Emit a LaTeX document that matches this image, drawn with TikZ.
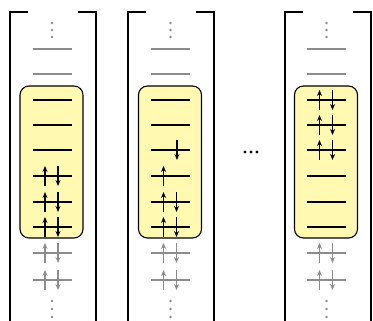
\documentclass[tikz,border=0pt]{standalone}
\usetikzlibrary{arrows.meta}
\definecolor{boxfill}{RGB}{255,249,178}
\definecolor{lvlgray}{RGB}{140,140,140}
\begin{document}
\begin{tikzpicture}[x=1pt,y=-1pt,
  lvl/.style={line width=1.2pt},
  grayed/.style={draw=lvlgray},
  spin/.style={line width=1.1pt,-{Stealth[length=6pt,width=5pt]}},
  bracketline/.style={line width=2pt},
  window/.style={draw=black,line width=1.1pt,fill=boxfill,rounded corners=9pt},
  vdot/.style={fill=lvlgray,draw=none},
  hdot/.style={fill=black,draw=none}]
\useasboundingbox (0,0) rectangle (373,321);
% brackets
\foreach \lx/\rx in {10/96,128/214,285/371}{
  \draw[bracketline] (\lx+18,12) -- (\lx,12) -- (\lx,321);
  \draw[bracketline] (\rx-18,12) -- (\rx,12) -- (\rx,321);
}
% columns: center x
\foreach \cx/\col in {52/1,170.5/2,326.5/3}{
  % top dots
  \foreach \yy in {23,30,37} \fill[vdot] (\cx,\yy) circle (1.3pt);
  % bottom dots
  \foreach \yy in {301,309,317} \fill[vdot] (\cx,\yy) circle (1.3pt);
  % top gray levels
  \foreach \yy in {49,74} \draw[lvl,grayed] (\cx-19.5,\yy) -- (\cx+19.5,\yy);
  % bottom gray levels with pairs
  \foreach \yy in {253,280}{
    \draw[lvl,grayed] (\cx-19.5,\yy) -- (\cx+19.5,\yy);
    \draw[spin,lvlgray] (\cx-7,\yy+10) -- (\cx-7,\yy-10);
    \draw[spin,lvlgray] (\cx+6,\yy-10) -- (\cx+6,\yy+10);
  }
  % window
  \node[window,minimum width=63pt,minimum height=152pt,inner sep=0pt] (win\col) at (\cx-0.5,162) {};
  \foreach \yy in {100,125,150,176,202,227}
    \draw[lvl] (\cx-19.5,\yy) -- (\cx+19.5,\yy);
}
% electrons column 1
\foreach \yy in {176,202,227}{
  \draw[spin] (45,\yy+10) -- (45,\yy-10);
  \draw[spin] (58,\yy-10) -- (58,\yy+10);
}
% electrons column 2
\draw[spin] (177,150-10) -- (177,150+10);
\draw[spin] (163.5,176+10) -- (163.5,176-10);
\foreach \yy in {202,227}{
  \draw[spin] (163.5,\yy+10) -- (163.5,\yy-10);
  \draw[spin] (176.5,\yy-10) -- (176.5,\yy+10);
}
% electrons column 3
\foreach \yy in {100,125,150}{
  \draw[spin] (319.5,\yy+10) -- (319.5,\yy-10);
  \draw[spin] (332.5,\yy-10) -- (332.5,\yy+10);
}
% ellipsis
\node[inner sep=0pt] (ell) at (251,152) {};
\foreach \xx in {245,251,257} \fill[hdot] (\xx,152) circle (1.6pt);
\end{tikzpicture}
\end{document}
